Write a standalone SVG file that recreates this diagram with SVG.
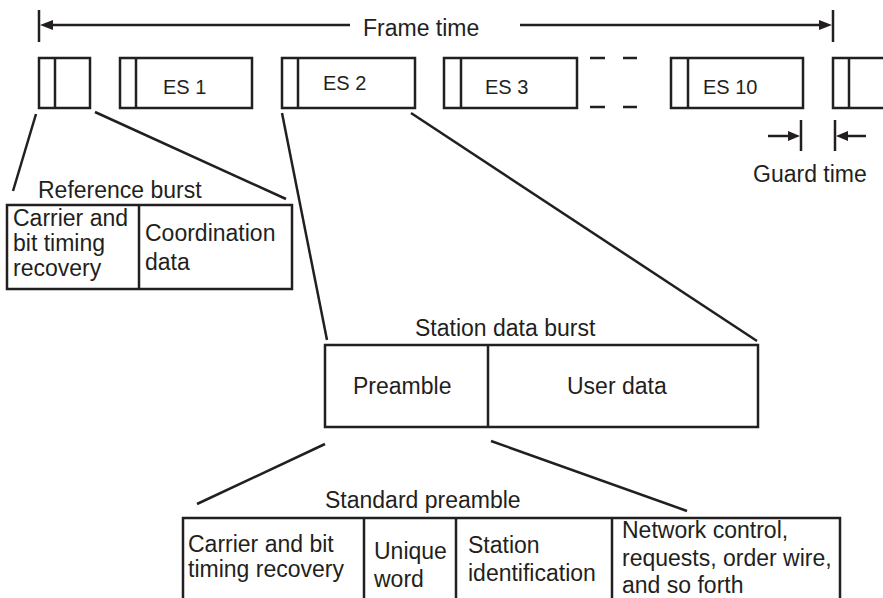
<svg xmlns="http://www.w3.org/2000/svg" width="883" height="598" viewBox="0 0 883 598">
<style>
  .box { fill: #fff; stroke: #231f20; stroke-width: 2.5; }
  .ln { fill: none; stroke: #231f20; stroke-width: 2.5; }
  .ah { fill: #231f20; stroke: none; }
  text { font-family: "Liberation Sans", Arial, sans-serif; font-size: 23px; fill: #231f20; }
  .es { font-size: 20px; }
</style>
<rect width="883" height="598" fill="#fff"/>

<g id="frame-time">
  <line class="ln" x1="39" y1="10" x2="39" y2="42"/>
  <line class="ln" x1="833" y1="10" x2="833" y2="42"/>
  <line class="ln" x1="50" y1="25" x2="350" y2="25"/>
  <line class="ln" x1="520" y1="25" x2="821" y2="25"/>
  <polygon class="ah" points="40,25 53,20 53,30"/>
  <polygon class="ah" points="832,25 819,20 819,30"/>
  <text x="363" y="36">Frame time</text>
</g>

<g id="ref-burst-slot">
  <rect class="box" x="39" y="58" width="51" height="50"/>
  <line class="ln" x1="55" y1="58" x2="55" y2="108"/>
</g>
<g id="es1">
  <rect class="box" x="120" y="58" width="132" height="50"/>
  <line class="ln" x1="136" y1="58" x2="136" y2="108"/>
  <text class="es" x="163" y="94">ES 1</text>
</g>
<g id="es2">
  <rect class="box" x="282" y="58" width="133" height="50"/>
  <line class="ln" x1="298" y1="58" x2="298" y2="108"/>
  <text class="es" x="323" y="90">ES 2</text>
</g>
<g id="es3">
  <rect class="box" x="444" y="58" width="133" height="50"/>
  <line class="ln" x1="461" y1="58" x2="461" y2="108"/>
  <text class="es" x="485" y="94">ES 3</text>
</g>
<g id="ellipsis">
  <line class="ln" x1="590" y1="58" x2="605" y2="58"/>
  <line class="ln" x1="623" y1="58" x2="637" y2="58"/>
  <line class="ln" x1="590" y1="107" x2="605" y2="107"/>
  <line class="ln" x1="623" y1="107" x2="637" y2="107"/>
</g>
<g id="es10">
  <rect class="box" x="671" y="58" width="132" height="50"/>
  <line class="ln" x1="688" y1="58" x2="688" y2="108"/>
  <text class="es" x="703" y="94">ES 10</text>
</g>
<g id="next-ref-slot">
  <rect class="box" x="833" y="58" width="70" height="50"/>
  <line class="ln" x1="849" y1="58" x2="849" y2="108"/>
</g>

<g id="guard-time">
  <line class="ln" x1="801" y1="120" x2="801" y2="151"/>
  <line class="ln" x1="835" y1="120" x2="835" y2="151"/>
  <line class="ln" x1="768" y1="136" x2="790" y2="136"/>
  <line class="ln" x1="846" y1="136" x2="866" y2="136"/>
  <polygon class="ah" points="800,136 788,131 788,141"/>
  <polygon class="ah" points="836,136 848,131 848,141"/>
  <text x="753" y="182">Guard time</text>
</g>

<g id="connectors">
  <line class="ln" x1="36" y1="114" x2="13" y2="191"/>
  <line class="ln" x1="95" y1="112" x2="286" y2="199"/>
  <line class="ln" x1="282" y1="113" x2="327" y2="340"/>
  <line class="ln" x1="411" y1="113" x2="757" y2="341"/>
  <line class="ln" x1="325" y1="444" x2="197" y2="504"/>
  <line class="ln" x1="491" y1="441" x2="687" y2="511"/>
</g>

<g id="reference-burst">
  <text x="38" y="198">Reference burst</text>
  <rect class="box" x="7" y="205" width="285" height="84"/>
  <line class="ln" x1="139" y1="205" x2="139" y2="289"/>
  <text x="13" y="226">Carrier and</text>
  <text x="13" y="251">bit timing</text>
  <text x="13" y="276">recovery</text>
  <text x="145" y="241">Coordination</text>
  <text x="145" y="270">data</text>
</g>

<g id="station-data-burst">
  <text x="415" y="336">Station data burst</text>
  <rect class="box" x="325" y="345" width="433" height="82"/>
  <line class="ln" x1="488" y1="345" x2="488" y2="427"/>
  <text x="353" y="394">Preamble</text>
  <text x="567" y="394">User data</text>
</g>

<g id="standard-preamble">
  <text x="325" y="508">Standard preamble</text>
  <rect class="box" x="183" y="518" width="657" height="100"/>
  <line class="ln" x1="364" y1="518" x2="364" y2="600"/>
  <line class="ln" x1="456" y1="518" x2="456" y2="600"/>
  <line class="ln" x1="612" y1="518" x2="612" y2="600"/>
  <text x="188" y="552">Carrier and bit</text>
  <text x="188" y="577">timing recovery</text>
  <text x="374" y="559">Unique</text>
  <text x="374" y="587">word</text>
  <text x="468" y="553">Station</text>
  <text x="468" y="581">identification</text>
  <text x="622" y="538">Network control,</text>
  <text x="622" y="566">requests, order wire,</text>
  <text x="622" y="593">and so forth</text>
</g>
</svg>
